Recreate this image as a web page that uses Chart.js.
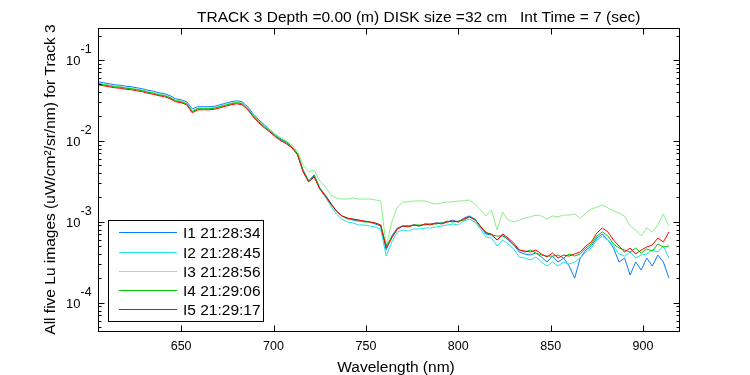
<!DOCTYPE html>
<html><head><meta charset="utf-8">
<script src="https://cdn.jsdelivr.net/npm/chart.js@4.4.1/dist/chart.umd.min.js"></script>
<style>html,body{margin:0;padding:0;background:#fff;overflow:hidden}canvas{display:block}</style>
</head><body>
<canvas id="c" width="750" height="375"></canvas>
<script>
// ---- data ----
const WAVELENGTH = [605,608,611,614,617,620,623,626,629,632,
635,638,641,644,647,650,653,656,659,662,
665,668,671,674,677,680,683,686,689,692,
695,698,701,704,707,710,713,716,719,722,
725,728,731,734,737,740,743,746,749,752,
755,758,761,764,767,770,773,776,779,782,
785,788,791,794,797,800,803,806,809,812,
815,818,821,824,827,830,833,836,839,842,
845,848,851,854,857,860,863,866,869,872,
875,878,881,884,887,890,893,896,899,902,
905,908,911,914];

const I1 = [0.0537,0.0522,0.0508,0.0493,0.0486,0.0473,0.0466,0.0453,0.0440,0.0422,
0.0410,0.0393,0.0382,0.0361,0.0331,0.0322,0.0304,0.0249,0.0264,0.0264,
0.0264,0.0267,0.0279,0.0291,0.0304,0.0313,0.0304,0.0264,0.0216,0.0182,
0.0158,0.0137,0.0119,0.0106,0.00972,0.00843,0.00690,0.00438,0.00320,0.00380,
0.00262,0.00215,0.00171,0.00136,0.00118,0.00111,0.00105,0.00102,0.00102,0.000994,
0.000939,0.000887,0.000448,0.000667,0.000838,0.000887,0.000887,0.000913,0.000887,0.000939,
0.000939,0.000966,0.000966,0.000994,0.00105,0.000994,0.00111,0.00118,0.00108,0.000862,
0.000706,0.000686,0.000595,0.000686,0.000595,0.000516,0.000423,0.000400,0.000388,0.000411,
0.000367,0.000318,0.000377,0.000318,0.000356,0.000284,0.000201,0.000356,0.000448,0.000502,
0.000630,0.000706,0.000595,0.000474,0.000318,0.000356,0.000220,0.000318,0.000253,0.000356,
0.000284,0.000388,0.000318,0.000201];

const I2 = [0.0515,0.0500,0.0486,0.0473,0.0466,0.0453,0.0447,0.0434,0.0422,0.0404,
0.0393,0.0376,0.0366,0.0346,0.0317,0.0308,0.0291,0.0235,0.0253,0.0253,
0.0253,0.0256,0.0267,0.0279,0.0291,0.0300,0.0291,0.0253,0.0207,0.0174,
0.0151,0.0133,0.0115,0.0103,0.00945,0.00831,0.00680,0.00425,0.00311,0.00369,
0.00255,0.00203,0.00157,0.00125,0.00108,0.000994,0.000966,0.000913,0.000913,0.000887,
0.000862,0.000814,0.000377,0.000562,0.000748,0.000791,0.000769,0.000814,0.000814,0.000838,
0.000838,0.000862,0.000887,0.000913,0.000939,0.000913,0.00102,0.00108,0.000994,0.000814,
0.000648,0.000630,0.000502,0.000595,0.000531,0.000461,0.000367,0.000356,0.000337,0.000367,
0.000318,0.000284,0.000318,0.000284,0.000318,0.000300,0.000318,0.000356,0.000423,0.000474,
0.000595,0.000667,0.000595,0.000502,0.000400,0.000377,0.000423,0.000356,0.000388,0.000400,
0.000448,0.000423,0.000502,0.000356];

const I3 = [0.0515,0.0500,0.0486,0.0473,0.0466,0.0453,0.0447,0.0434,0.0422,0.0404,
0.0393,0.0376,0.0366,0.0346,0.0317,0.0308,0.0291,0.0235,0.0253,0.0253,
0.0253,0.0256,0.0267,0.0279,0.0291,0.0300,0.0291,0.0253,0.0210,0.0177,
0.0153,0.0137,0.0120,0.0109,0.0100,0.00892,0.00731,0.00505,0.00413,0.00438,
0.00320,0.00270,0.00215,0.00197,0.00191,0.00191,0.00197,0.00191,0.00191,0.00191,
0.00186,0.00181,0.000502,0.000994,0.00152,0.00176,0.00176,0.00181,0.00181,0.00181,
0.00171,0.00166,0.00171,0.00176,0.00176,0.00181,0.00181,0.00186,0.00166,0.00140,
0.00118,0.00140,0.000791,0.00132,0.00105,0.000994,0.00105,0.00111,0.00115,0.00121,
0.00118,0.00108,0.00118,0.00115,0.00121,0.00121,0.00125,0.00111,0.00128,0.00144,
0.00152,0.00161,0.00148,0.00136,0.00128,0.00118,0.000887,0.000791,0.000667,0.000838,
0.000748,0.000913,0.00125,0.000887];

const I4 = [0.0508,0.0493,0.0479,0.0466,0.0459,0.0447,0.0440,0.0428,0.0416,0.0399,
0.0387,0.0371,0.0361,0.0341,0.0313,0.0304,0.0287,0.0229,0.0249,0.0249,
0.0249,0.0253,0.0264,0.0275,0.0287,0.0296,0.0287,0.0249,0.0204,0.0172,
0.0149,0.0133,0.0115,0.0103,0.00945,0.00843,0.00690,0.00425,0.00320,0.00369,
0.00262,0.00209,0.00166,0.00136,0.00118,0.00108,0.00108,0.00105,0.000994,0.000994,
0.000966,0.000913,0.000502,0.000648,0.000814,0.000887,0.000887,0.000913,0.000913,0.000913,
0.000939,0.000939,0.000966,0.00102,0.000994,0.00102,0.00105,0.00115,0.00108,0.000862,
0.000748,0.000686,0.000667,0.000667,0.000612,0.000516,0.000448,0.000423,0.000448,0.000411,
0.000388,0.000377,0.000377,0.000388,0.000356,0.000400,0.000377,0.000400,0.000474,0.000531,
0.000667,0.000748,0.000667,0.000531,0.000474,0.000448,0.000423,0.000474,0.000411,0.000461,
0.000435,0.000531,0.000488,0.000502];

const I5 = [0.0493,0.0479,0.0466,0.0453,0.0447,0.0434,0.0428,0.0416,0.0404,0.0387,
0.0376,0.0361,0.0351,0.0331,0.0304,0.0296,0.0279,0.0222,0.0242,0.0242,
0.0242,0.0246,0.0256,0.0267,0.0279,0.0287,0.0279,0.0242,0.0198,0.0167,
0.0145,0.0129,0.0112,0.0100,0.00918,0.00819,0.00671,0.00413,0.00311,0.00358,
0.00255,0.00209,0.00166,0.00136,0.00118,0.00111,0.00108,0.00105,0.00102,0.000994,
0.000966,0.000913,0.000474,0.000630,0.000814,0.000887,0.000862,0.000913,0.000887,0.000939,
0.000913,0.000966,0.000939,0.000994,0.00102,0.000994,0.00108,0.00115,0.00105,0.000887,
0.000727,0.000706,0.000595,0.000706,0.000630,0.000547,0.000448,0.000435,0.000423,0.000448,
0.000400,0.000367,0.000411,0.000356,0.000388,0.000377,0.000400,0.000423,0.000502,0.000562,
0.000727,0.000838,0.000748,0.000595,0.000502,0.000423,0.000474,0.000400,0.000448,0.000488,
0.000516,0.000630,0.000562,0.000748];

const SERIES_NAMES = ['I1 21:28:34','I2 21:28:45','I3 21:28:56','I4 21:29:06','I5 21:29:17'];
const SERIES_VALUES = [I1, I2, I3, I4, I5];
const SERIES_COLORS = ['#0a7cff','#22e4e4','#8cf08c','#00c400','#ff0000'];

const X_TICKS = [650,700,750,800,850,900];
const Y_MAJOR = [1e-4,1e-3,1e-2,1e-1];
const Y_MAJOR_EXP = ['-4','-3','-2','-1'];
const Y_MINOR = [5e-5,6e-5,7e-5,8e-5,9e-5,
  2e-4,3e-4,4e-4,5e-4,6e-4,7e-4,8e-4,9e-4,
  2e-3,3e-3,4e-3,5e-3,6e-3,7e-3,8e-3,9e-3,
  2e-2,3e-2,4e-2,5e-2,6e-2,7e-2,8e-2,9e-2,
  2e-1];
const X_MIN = 605, X_MAX = 920, Y_MIN = 4.47e-5, Y_MAX = 0.248;

const TITLE = 'TRACK 3 Depth =0.00 (m) DISK size =32 cm   Int Time = 7 (sec)';
const X_TITLE = 'Wavelength (nm)';
const Y_TITLE = 'All five Lu images (uW/cm\u00b2/sr/nm) for Track 3';

const FONT = '"Liberation Sans", Arial, Helvetica, sans-serif';

const datasets = SERIES_VALUES.map((vals, k) => ({
  label: SERIES_NAMES[k],
  data: vals.map((v, i) => ({x: WAVELENGTH[i], y: v})),
  borderColor: SERIES_COLORS[k],
  backgroundColor: SERIES_COLORS[k],
  borderWidth: 1,
  pointRadius: 0,
  tension: 0,
  fill: false,
  order: SERIES_VALUES.length - k
}));

const matlabAxes = {
  id: 'matlabAxes',
  beforeDraw(chart) {
    const ctx = chart.ctx;
    ctx.save();
    ctx.fillStyle = '#fff';
    ctx.fillRect(0, 0, chart.width, chart.height);
    ctx.restore();
  },
  afterDraw(chart) {
    const {ctx, chartArea: a, scales: {x, y}} = chart;
    ctx.save();
    ctx.strokeStyle = '#000';
    ctx.fillStyle = '#000';
    ctx.lineWidth = 1;
    const L = a.left + 0.5, R = a.right - 0.5, T = a.top + 0.5, B = a.bottom + 0.5;
    ctx.strokeRect(L, T, R - L, B - T);
    ctx.beginPath();
    X_TICKS.forEach(v => {
      const px = Math.round(x.getPixelForValue(v)) + 0.5;
      ctx.moveTo(px, B); ctx.lineTo(px, B - 6);
      ctx.moveTo(px, T); ctx.lineTo(px, T + 6);
    });
    Y_MAJOR.forEach(v => {
      const py = Math.round(y.getPixelForValue(v)) + 0.5;
      ctx.moveTo(L, py); ctx.lineTo(L + 6, py);
      ctx.moveTo(R, py); ctx.lineTo(R - 6, py);
    });
    Y_MINOR.forEach(v => {
      const py = Math.round(y.getPixelForValue(v)) + 0.5;
      ctx.moveTo(L, py); ctx.lineTo(L + 3, py);
      ctx.moveTo(R, py); ctx.lineTo(R - 3, py);
    });
    ctx.stroke();

    // x tick labels
    ctx.font = '12.5px ' + FONT;
    ctx.textAlign = 'center';
    ctx.textBaseline = 'alphabetic';
    X_TICKS.forEach(v => {
      ctx.fillText(String(v), x.getPixelForValue(v), 349.5);
    });
    // y tick labels 10^n
    Y_MAJOR.forEach((v, i) => {
      const py = y.getPixelForValue(v);
      ctx.font = '13px ' + FONT;
      ctx.textAlign = 'right';
      ctx.fillText('10', 80.5, py + 5);
      ctx.font = '12.5px ' + FONT;
      ctx.textAlign = 'left';
      ctx.fillText(Y_MAJOR_EXP[i], 80.5, py - 7);
    });

    // title and axis titles
    ctx.font = '15.5px ' + FONT;
    ctx.textAlign = 'left';
    ctx.fillText(TITLE, 197, 22);
    ctx.textAlign = 'center';
    ctx.fillText(X_TITLE, 396, 371.5);
    ctx.save();
    ctx.translate(54.5, (a.top + a.bottom) / 2);
    ctx.rotate(-Math.PI / 2);
    ctx.fillText(Y_TITLE, 0, 0);
    ctx.restore();

    // legend
    const lx = 108.5, ly = 220.5, lw = 155, lh = 101;
    ctx.fillStyle = '#fff';
    ctx.fillRect(lx, ly, lw, lh);
    ctx.strokeStyle = '#000';
    ctx.strokeRect(lx, ly, lw, lh);
    ctx.font = '15.5px ' + FONT;
    ctx.textAlign = 'left';
    SERIES_NAMES.forEach((name, k) => {
      const ry = Math.round(232.3 + k * 19.2) + 0.5;
      ctx.strokeStyle = SERIES_COLORS[k];
      ctx.beginPath();
      ctx.moveTo(119, ry); ctx.lineTo(177, ry);
      ctx.stroke();
      ctx.fillStyle = '#000';
      ctx.fillText(name, 183, ry + 5.6);
    });
    ctx.restore();
  }
};

new Chart(document.getElementById('c'), {
  type: 'line',
  data: {datasets},
  options: {
    responsive: false,
    animation: false,
    devicePixelRatio: 1,
    layout: {padding: {left: 98, right: 70, top: 28, bottom: 44}},
    scales: {
      x: {type: 'linear', min: X_MIN, max: X_MAX, display: false},
      y: {type: 'logarithmic', min: Y_MIN, max: Y_MAX, display: false}
    },
    plugins: {legend: {display: false}, title: {display: false}, tooltip: {enabled: false}},
    elements: {line: {borderJoinStyle: 'miter'}}
  },
  plugins: [matlabAxes]
});
</script>
</body></html>
